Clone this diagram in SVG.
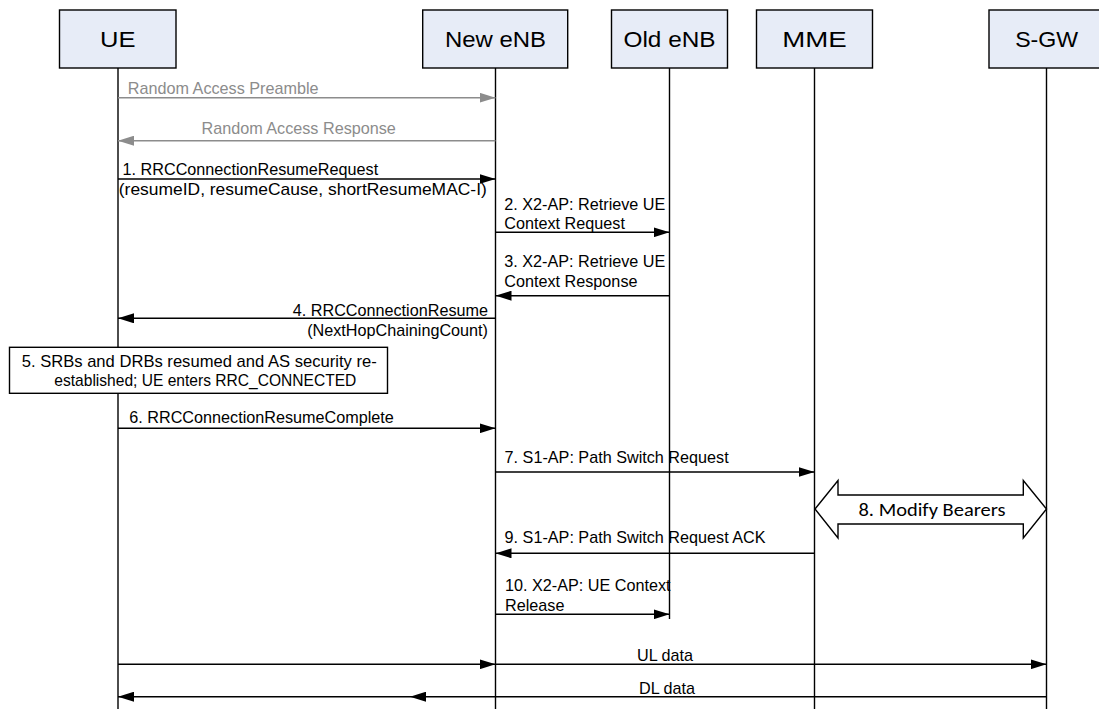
<svg xmlns="http://www.w3.org/2000/svg" width="1099" height="709" viewBox="0 0 1099 709">
<style>
.box{fill:#E7ECF7;stroke:#000;stroke-width:1.4}
.hdr{font-family:"Liberation Sans",Arial,sans-serif;font-size:22px;fill:#000;text-anchor:middle}
.life{stroke:#000;stroke-width:1.4;fill:none}
.msg{stroke:#000;stroke-width:1.5;fill:none;marker-end:url(#ah)}
.gmsg{stroke:#8c8c8c;stroke-width:1.5;fill:none;marker-end:url(#gah)}
.t{font-family:"Liberation Sans",Arial,sans-serif;font-size:16.2px;fill:#000}
.gt{font-family:"Liberation Sans",Arial,sans-serif;font-size:16.2px;fill:#8c8c8c}
.note{fill:#fff;stroke:#000;stroke-width:1.4}
.dbl{fill:#fff;stroke:#000;stroke-width:1.4}
.mb{font-family:Carlito,Calibri,Lato,sans-serif;font-size:18px;fill:#000}
</style>
<defs>
<marker id="ah" markerUnits="userSpaceOnUse" markerWidth="16" markerHeight="10" refX="16" refY="5" orient="auto">
<path d="M0,0 L16,5 L0,10 z" fill="#000"/>
</marker>
<marker id="gah" markerUnits="userSpaceOnUse" markerWidth="16" markerHeight="10" refX="16" refY="5" orient="auto">
<path d="M0,0 L16,5 L0,10 z" fill="#8c8c8c"/>
</marker>
</defs>

<g id="lifelines">
<line class="life" x1="118" y1="68" x2="118" y2="709"/>
<line class="life" x1="495.5" y1="68" x2="495.5" y2="709"/>
<line class="life" x1="669.5" y1="68" x2="669.5" y2="619"/>
<line class="life" x1="814.5" y1="68" x2="814.5" y2="709"/>
<line class="life" x1="1046.5" y1="68" x2="1046.5" y2="709"/>
</g>

<g id="node-ue">
<rect class="box" x="59.5" y="10" width="116.5" height="58"/>
<text class="hdr" x="117.7" y="47" textLength="35.5" lengthAdjust="spacingAndGlyphs">UE</text>
</g>
<g id="node-new-enb">
<rect class="box" x="422.7" y="10" width="145" height="58"/>
<text class="hdr" x="495.5" y="47" textLength="101" lengthAdjust="spacingAndGlyphs">New eNB</text>
</g>
<g id="node-old-enb">
<rect class="box" x="611.5" y="10" width="116" height="58"/>
<text class="hdr" x="669.5" y="47" textLength="92" lengthAdjust="spacingAndGlyphs">Old eNB</text>
</g>
<g id="node-mme">
<rect class="box" x="756.5" y="10" width="116" height="58"/>
<text class="hdr" x="814.5" y="47" textLength="64.5" lengthAdjust="spacingAndGlyphs">MME</text>
</g>
<g id="node-sgw">
<rect class="box" x="989" y="10" width="116" height="58"/>
<text class="hdr" x="1046.7" y="47" textLength="63" lengthAdjust="spacingAndGlyphs">S-GW</text>
</g>

<g id="node-step5">
<rect class="note" x="9.5" y="347.3" width="378" height="46"/>
<text class="t" x="21.7" y="366.7" textLength="355" lengthAdjust="spacingAndGlyphs">5. SRBs and DRBs resumed and AS security re-</text>
<text class="t" x="54.3" y="385.5" textLength="302" lengthAdjust="spacingAndGlyphs">established; UE enters RRC_CONNECTED</text>
</g>

<g id="node-step8">
<path class="dbl" d="M815,509 L838,480.5 L838,495 L1023.3,495 L1023.3,480.5 L1046.5,509 L1023.3,538 L1023.3,524 L838,524 L838,538 Z"/>
<text class="mb" x="858.5" y="516" textLength="147" lengthAdjust="spacingAndGlyphs">8. Modify Bearers</text>
</g>

<g id="connectors">
<line class="gmsg" x1="118" y1="97.7" x2="495.5" y2="97.7"/>
<text class="gt" x="127.8" y="94.3">Random Access Preamble</text>

<line class="gmsg" x1="495.5" y1="140.7" x2="118" y2="140.7"/>
<text class="gt" x="201.5" y="134.3">Random Access Response</text>

<line class="msg" x1="118" y1="179" x2="495.5" y2="179"/>
<text class="t" x="122.6" y="175">1. RRCConnectionResumeRequest</text>
<text class="t" x="118.8" y="194.5" textLength="368" lengthAdjust="spacingAndGlyphs">(resumeID, resumeCause, shortResumeMAC-I)</text>

<line class="msg" x1="495.5" y1="232.3" x2="669.5" y2="232.3"/>
<text class="t" x="504.3" y="210">2. X2-AP: Retrieve UE</text>
<text class="t" x="504.3" y="229.3">Context Request</text>

<line class="msg" x1="669.5" y1="295.7" x2="495.5" y2="295.7"/>
<text class="t" x="504.3" y="267.3">3. X2-AP: Retrieve UE</text>
<text class="t" x="504.3" y="286.7">Context Response</text>

<line class="msg" x1="495.5" y1="318.3" x2="118" y2="318.3"/>
<text class="t" x="488" y="316" text-anchor="end">4. RRCConnectionResume</text>
<text class="t" x="488" y="335.5" text-anchor="end">(NextHopChainingCount)</text>

<line class="msg" x1="118" y1="428.3" x2="495.5" y2="428.3"/>
<text class="t" x="129.3" y="422.7">6. RRCConnectionResumeComplete</text>

<line class="msg" x1="495.5" y1="472" x2="814.5" y2="472"/>
<text class="t" x="504.6" y="463.3">7. S1-AP: Path Switch Request</text>

<line class="msg" x1="814.5" y1="553.3" x2="495.5" y2="553.3"/>
<text class="t" x="504.6" y="543.3">9. S1-AP: Path Switch Request ACK</text>

<line class="msg" x1="495.5" y1="614.3" x2="669.5" y2="614.3"/>
<text class="t" x="505" y="591">10. X2-AP: UE Context</text>
<text class="t" x="505" y="610.7">Release</text>

<line class="msg" x1="118" y1="664.3" x2="495.5" y2="664.3"/>
<line class="msg" x1="495.5" y1="664.3" x2="1046.5" y2="664.3"/>
<text class="t" x="637" y="661">UL data</text>

<line class="msg" x1="1046.5" y1="696.7" x2="410" y2="696.7"/>
<line class="msg" x1="410" y1="696.7" x2="118" y2="696.7"/>
<text class="t" x="639" y="693.5">DL data</text>
</g>
</svg>
